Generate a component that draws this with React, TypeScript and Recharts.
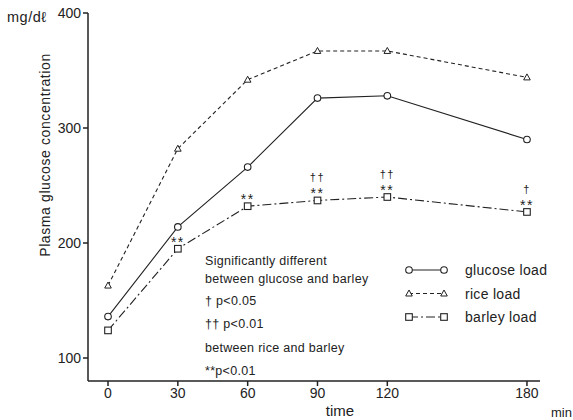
import { LineChart, Line, XAxis, YAxis, LabelList, Customized } from 'recharts';

// time after load (min) and plasma glucose (mg/dl)
const times = [0, 30, 60, 90, 120, 180];
const glucoseLoad = [136, 214, 266, 326, 328, 290];
const riceLoad = [163, 282, 342, 367, 367, 344];
const barleyLoad = [124, 195, 232, 237, 240, 227];

// significance marks on barley points
const riceVsBarley = ['', '**', '**', '**', '**', '**'];
const glucoseVsBarley = ['', '', '', '††', '††', '†'];

const xTicks = [0, 30, 60, 90, 120, 180];
const yTicks = [100, 200, 300, 400];

const data = times.map((t, i) => ({
  time: t,
  glucose: glucoseLoad[i],
  rice: riceLoad[i],
  barley: barleyLoad[i],
}));

const INK = '#222';
const FONT = "'Liberation Sans', Arial, sans-serif";
const NARROW = "'Liberation Sans Narrow', 'Liberation Sans', Arial, sans-serif";

const circleDot = (p: any) => (
  <circle key={`c${p.index}`} cx={p.cx} cy={p.cy} r={3.3} fill="#fff" stroke={INK} strokeWidth={1.1} />
);
const triDot = (p: any) => (
  <polygon
    key={`t${p.index}`}
    points={`${p.cx},${p.cy - 3.5} ${p.cx - 3.3},${p.cy + 2.5} ${p.cx + 3.3},${p.cy + 2.5}`}
    fill="#fff"
    stroke={INK}
    strokeWidth={1}
  />
);
const squareDot = (p: any) => (
  <rect key={`s${p.index}`} x={p.cx - 3.3} y={p.cy - 3.3} width={6.6} height={6.6} fill="#fff" stroke={INK} strokeWidth={1.1} />
);

const sigLabel = (props: any) => {
  const { x, y, index } = props;
  return (
    <g key={`sig${index}`} fontFamily={FONT} fill={INK}>
      {riceVsBarley[index] && (
        <text x={x} y={y - 2} textAnchor="middle" fontSize={14} letterSpacing={1.5}>
          {riceVsBarley[index]}
        </text>
      )}
      {glucoseVsBarley[index] && (
        <text x={x} y={y - 19} textAnchor="middle" fontSize={11} letterSpacing={1.5}>
          {glucoseVsBarley[index]}
        </text>
      )}
    </g>
  );
};

const legendRows = [
  { name: 'glucose load', dash: undefined, dot: circleDot },
  { name: 'rice load', dash: '4 3', dot: triDot },
  { name: 'barley load', dash: '9 3 2 3', dot: squareDot },
];

const notes = [
  { text: 'Significantly different', y: 265 },
  { text: 'between glucose and barley', y: 283 },
  { text: '†  p<0.05', y: 305 },
  { text: '††  p<0.01', y: 328 },
  { text: 'between rice and barley', y: 352 },
  { text: '**p<0.01', y: 375 },
];

const Extras = () => (
  <g fill={INK}>
    <text x={7} y={22} fontFamily={FONT} fontSize={14.5} letterSpacing={0.5}>mg/dℓ</text>
    <text
      x={45}
      y={155}
      transform="rotate(-90 45 155)"
      textAnchor="middle"
      dominantBaseline="central"
      fontFamily={FONT}
      fontSize={14}
      letterSpacing={0.6}
    >
      Plasma glucose concentration
    </text>
    <text x={340} y={416} textAnchor="middle" fontFamily={FONT} fontSize={15}>time</text>
    <text x={551} y={417} fontFamily={FONT} fontSize={13}>min</text>
    {notes.map((n) => (
      <text key={n.text} x={205} y={n.y} fontFamily={FONT} fontSize={12.5} letterSpacing={0.3}>
        {n.text}
      </text>
    ))}
    {legendRows.map((r, i) => {
      const y = 270 + i * 23.5;
      return (
        <g key={r.name}>
          <line x1={409} x2={444} y1={y} y2={y} stroke={INK} strokeWidth={1.1} strokeDasharray={r.dash} />
          {r.dot({ cx: 409, cy: y, index: `l${i}a` })}
          {r.dot({ cx: 444, cy: y, index: `l${i}b` })}
          <text x={465} y={y + 5} fontFamily={FONT} fontSize={14} letterSpacing={0.3}>
            {r.name}
          </text>
        </g>
      );
    })}
  </g>
);

export default function App() {
  return (
    <div style={{ position: 'absolute', left: 0, top: 0, background: '#fff' }}>
      <LineChart width={573} height={420} data={data} margin={{ top: 13, right: 33, left: 0, bottom: 0 }}>
        <XAxis
          dataKey="time"
          type="number"
          domain={[-8.6, 185.6]}
          ticks={xTicks}
          height={39}
          tickSize={5}
          stroke={INK}
          strokeWidth={1.5}
          tick={{ fill: INK, fontSize: 14, fontFamily: NARROW }}
        />
        <YAxis
          type="number"
          domain={[80, 400]}
          ticks={yTicks}
          width={88}
          tickSize={5}
          stroke={INK}
          strokeWidth={1.5}
          tick={{ fill: INK, fontSize: 14, fontFamily: NARROW }}
        />
        <Line dataKey="rice" stroke={INK} strokeWidth={1.1} strokeDasharray="4 3" dot={triDot} isAnimationActive={false} />
        <Line dataKey="glucose" stroke={INK} strokeWidth={1.1} dot={circleDot} isAnimationActive={false} />
        <Line dataKey="barley" stroke={INK} strokeWidth={1.1} strokeDasharray="9 3 2 3" dot={squareDot} isAnimationActive={false}>
          <LabelList dataKey="barley" content={sigLabel} />
        </Line>
        <Customized component={Extras} />
      </LineChart>
    </div>
  );
}
